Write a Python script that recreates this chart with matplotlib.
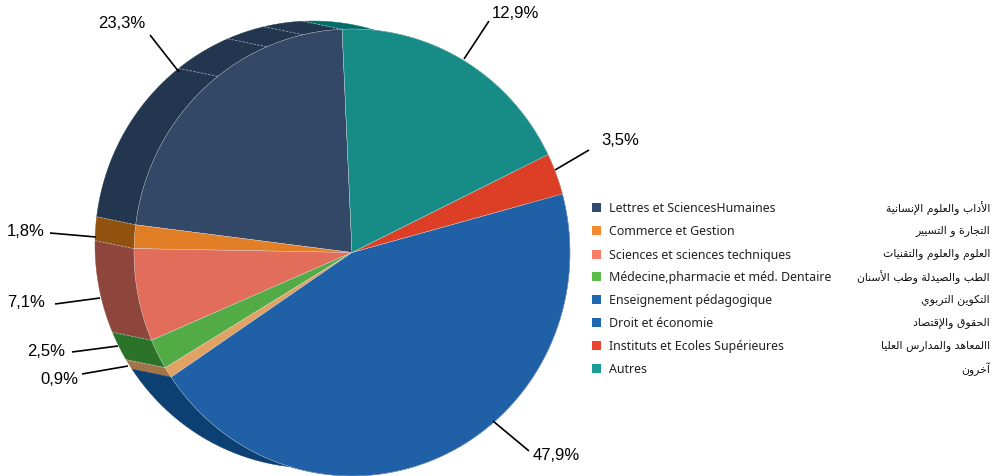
import numpy as np
import matplotlib
matplotlib.use("Agg")
import matplotlib.pyplot as plt
from matplotlib.patches import Polygon, Rectangle

# shares as drawn in the picture (the printed labels do not match them)
shares = [22.3, 1.7, 6.7, 2.2, 0.8, 44.8, 3.0, 18.5]
start_angle = 92.6
pie_labels = ["23,3%", "1,8%", "7,1%", "2,5%", "0,9%", "47,9%", "3,5%", "12,9%"]

face_colors = ["#324866", "#E27F26", "#E26D5A", "#52AB45", "#E2A263", "#1F60A7", "#DC3F26", "#178C87"]
wall_colors = ["#22364F", "#91520F", "#8E463C", "#2C732A", "#A17549", "#0C3F72", "#8E2A18", "#006D68"]

legend_fr = [
    "Lettres et SciencesHumaines",
    "Commerce et Gestion",
    "Sciences et sciences techniques",
    "Médecine,pharmacie et méd. Dentaire",
    "Enseignement pédagogique",
    "Droit et économie",
    "Instituts et Ecoles Supérieures",
    "Autres",
]
legend_ar = [
    "الأداب والعلوم الإنسانية",
    "التجارة و التسيير",
    "العلوم والعلوم والتقنيات",
    "الطب والصيدلة وطب الأسنان",
    "التكوين التربوي",
    "الحقوق والإقتصاد",
    "االمعاهد والمدارس العليا",
    "آخرون",
]
legend_colors = ["#2F4B6E", "#F58A2E", "#F87C68", "#5BBB4B", "#2067B3", "#2067B3", "#EE4530", "#1A9C97"]
legend_y = [208, 231, 255, 277, 300, 323, 346, 369]

# text position (centre), leader start, leader end
label_layout = [
    (122, 23, 150, 36, 179, 73),
    (26, 232, 50, 234, 96, 238),
    (26, 303, 55, 305, 100, 299),
    (46, 352, 72, 353, 118, 347),
    (59, 380, 82, 375, 128, 367),
    (556, 456, 529, 452, 493, 422),
    (620, 141, 589, 151, 555, 171),
    (515, 13, 489, 22, 464, 60),
]

cx, cy, rx, ry = 352, 253.5, 218, 223.5
dx, dy = -39, -8
wall_seams = [103, 113, 128]

# matplotlib does no arabic shaping, so pick the joined forms by hand
TWO_FORMS = {"آ": 0xFE81, "أ": 0xFE83, "ؤ": 0xFE85, "إ": 0xFE87, "ا": 0xFE8D, "ة": 0xFE93, "د": 0xFEA9,
             "ذ": 0xFEAB, "ر": 0xFEAD, "ز": 0xFEAF, "و": 0xFEED, "ى": 0xFEEF}
FOUR_FORMS = {"ئ": 0xFE89, "ب": 0xFE8F, "ت": 0xFE95, "ث": 0xFE99, "ج": 0xFE9D, "ح": 0xFEA1, "خ": 0xFEA5,
              "س": 0xFEB1, "ش": 0xFEB5, "ص": 0xFEB9, "ض": 0xFEBD, "ط": 0xFEC1, "ظ": 0xFEC5, "ع": 0xFEC9,
              "غ": 0xFECD, "ف": 0xFED1, "ق": 0xFED5, "ك": 0xFED9, "ل": 0xFEDD, "م": 0xFEE1, "ن": 0xFEE5,
              "ه": 0xFEE9, "ي": 0xFEF1}
LAM_ALEF = {"ا": 0xFEFB, "أ": 0xFEF7, "إ": 0xFEF9, "آ": 0xFEF5}


def shape_arabic(s):
    out = []
    joined = False  # previous letter joins to the next one
    i = 0
    while i < len(s):
        c = s[i]
        if c == "ل" and i + 1 < len(s) and s[i + 1] in LAM_ALEF:
            out.append(chr(LAM_ALEF[s[i + 1]] + (1 if joined else 0)))
            joined = False
            i += 2
            continue
        nxt = s[i + 1] if i + 1 < len(s) else " "
        can_join = nxt in TWO_FORMS or nxt in FOUR_FORMS
        if c in FOUR_FORMS:
            base = FOUR_FORMS[c]
            if joined:
                out.append(chr(base + (3 if can_join else 1)))
            else:
                out.append(chr(base + (2 if can_join else 0)))
            joined = can_join
        elif c in TWO_FORMS:
            out.append(chr(TWO_FORMS[c] + (1 if joined else 0)))
            joined = False
        else:
            out.append(c)
            joined = False
        i += 1
    return "".join(reversed(out))


def arc(x0, y0, a0, a1):
    t = np.radians(np.linspace(a0, a1, 80))
    return np.column_stack([x0 + rx * np.cos(t), y0 - ry * np.sin(t)])


fig = plt.figure(figsize=(9.98, 4.77), dpi=100)
ax = fig.add_axes([0, 0, 1, 1])
ax.set_xlim(0, 998)
ax.set_ylim(477, 0)
ax.axis("off")

edges = start_angle + np.concatenate([[0], np.cumsum(shares)]) * 3.6

# side wall first, the faces cover the hidden part
for i, c in enumerate(wall_colors):
    front = arc(cx, cy, edges[i], edges[i + 1])
    back = arc(cx + dx, cy + dy, edges[i], edges[i + 1])
    ax.add_patch(Polygon(np.vstack([front, back[::-1]]), closed=True, fc=c, ec=c, lw=0.3, zorder=2))

for a in list(edges[1:5]) + [edges[0]] + wall_seams:
    t = np.radians(a)
    x, y = cx + rx * np.cos(t), cy - ry * np.sin(t)
    ax.plot([x, x + dx], [y, y + dy], color="#C8CDD4", lw=0.6, ls=(0, (3, 1.5)), alpha=0.7, zorder=3)

for i, c in enumerate(face_colors):
    pts = np.vstack([[cx, cy], arc(cx, cy, edges[i], edges[i + 1])])
    ax.add_patch(Polygon(pts, closed=True, fc=c, ec="#D8DCE0", lw=0.25, zorder=4))

for lab, (tx, ty, x0, y0, x1, y1) in zip(pie_labels, label_layout):
    ax.plot([x0, x1], [y0, y1], color="black", lw=1.2, zorder=5, solid_capstyle="butt")
    ax.text(tx, ty, lab, ha="center", va="center", fontsize=12, family="Liberation Sans", color="#000000", zorder=6)

for fr, ar, c, y in zip(legend_fr, legend_ar, legend_colors, legend_y):
    ax.add_patch(Rectangle((592.5, y - 4.5), 9, 9, fc=c, ec="none"))
    ax.text(609.5, y + 1, fr, ha="left", va="center", fontsize=8.95, family="Noto Sans", color="#222222")
    ax.text(990, y, shape_arabic(ar), ha="right", va="center", fontsize=7.8, family="DejaVu Sans", color="#111111")

fig.savefig("out.png", dpi=100)
